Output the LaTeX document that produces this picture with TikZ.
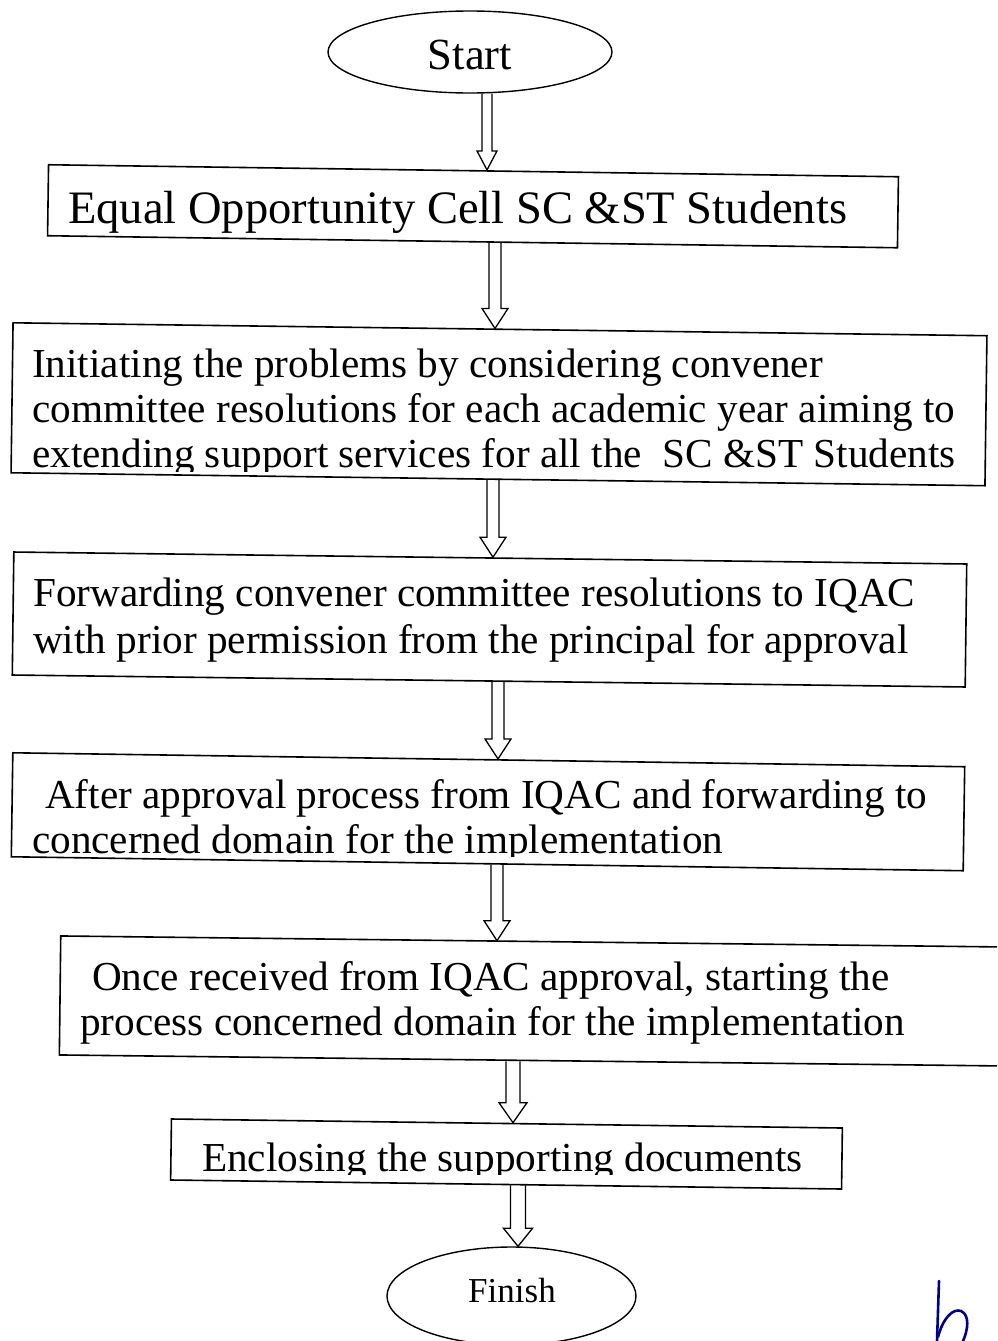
\documentclass[tikz,border=0pt]{standalone}
\usepackage{fontspec}
\setmainfont{Liberation Serif}
\usetikzlibrary{shapes.geometric,calc}
\tikzset{
  boxnode/.style={draw,line width=1.6pt,inner sep=0pt},
  oval/.style={draw,ellipse,line width=1.4pt,inner sep=0pt},
  conn/.style={draw,line width=1.3pt,line join=miter},
  txt/.style={anchor=base west,inner sep=0pt,font=\fontsize{41.2}{49}\selectfont},
  bigtxt/.style={anchor=base west,inner sep=0pt,font=\fontsize{46.5}{52}\selectfont},
  handmark/.style={draw=blue!55!black,line width=2.6pt,line cap=round,line join=round},
}
% lines of a box: #1 baselineskip, #2 lines as \hbox{...}
\newcommand{\boxlines}[2]{\vtop{\baselineskip=#1\lineskiplimit=-100pt #2}}
% #1 x, #2 from anchor, #3 to anchor, #4 shaft half width, #5 head half width, #6 head length
\newcommand{\hollowarrow}[6]{%
  \draw[conn] let \p1=(#1,0 |- #2), \p2=(#1,0 |- #3) in
    (\x1-#4pt,\y1) -- (\x1-#4pt,\y2+#6pt) -- (\x1-#5pt,\y2+#6pt) -- (\x1,\y2)
    -- (\x1+#5pt,\y2+#6pt) -- (\x1+#4pt,\y2+#6pt) -- (\x1+#4pt,\y1);}
\begin{document}
\begin{tikzpicture}[x=1pt,y=-1pt]
\clip (0,0) rectangle (997,1341);
\fill[white] (0,0) rectangle (997,1341);

% Start
\node[oval,minimum width=284pt,minimum height=82pt] (start) at (470,52) {};
\node[anchor=base,inner sep=0pt,font=\fontsize{44.5}{50}\selectfont] (starttxt) at (470,69) {Start};

% Box 1
\node[boxnode,minimum width=850pt,minimum height=71pt,rotate=-0.81] (b1) at (473,206.25) {};
\node[bigtxt] (t1) at (68,223) {Equal Opportunity Cell SC \&ST Students};

% Box 2
\node[boxnode,minimum width=974pt,minimum height=150pt,rotate=-0.76] (b2) at (499,404.25) {};
\begin{scope}
  \clip (0,300) rectangle (997,471);
  \node[txt] (t2) at (32,377) {\boxlines{45pt}{%
    \hbox{Initiating the problems by considering convener}%
    \hbox{committee resolutions for each academic year aiming to}%
    \hbox{extending support services for all the\ \ SC \&ST Students}}};
\end{scope}

% Box 3
\node[boxnode,minimum width=953pt,minimum height=123pt,rotate=-0.72] (b3) at (489.5,619.5) {};
\node[txt] (t3) at (33,606) {\boxlines{47pt}{%
    \hbox{Forwarding convener committee resolutions to IQAC}%
    \hbox{with prior permission from the principal for approval}}};

% Box 4
\node[boxnode,minimum width=952pt,minimum height=104pt,rotate=-0.84] (b4) at (488,811.75) {};
\begin{scope}
  \clip (0,740) rectangle (997,856);
  \node[txt] (t4) at (32,808) {\boxlines{45.5pt}{%
    \hbox{\hspace{13pt}After approval process from IQAC and forwarding to}%
    \hbox{concerned domain for the implementation}}};
\end{scope}

% Box 5
\node[boxnode,minimum width=950pt,minimum height=119pt,rotate=-0.67] (b5) at (535,1001) {};
\node[txt] (t5) at (80,990) {\boxlines{45pt}{%
    \hbox{\hspace{12pt}Once received from IQAC approval, starting the}%
    \hbox{process concerned domain for the implementation}}};

% Box 6
\node[boxnode,minimum width=671pt,minimum height=61pt,rotate=-0.77] (b6) at (506.5,1154) {};
\begin{scope}
  \clip (0,1100) rectangle (997,1174.5);
  \node[txt] (t6) at (202,1171) {Enclosing the supporting documents};
\end{scope}

% Finish
\node[oval,minimum width=249pt,minimum height=98pt] (finish) at (511.5,1296) {};
\node[anchor=base,inner sep=0pt,font=\fontsize{35}{40}\selectfont] (finishtxt) at (512,1302) {Finish};

% Connectors (hollow block arrows)
\hollowarrow{487}{start.south}{b1.north}{5}{10}{19}
\hollowarrow{495}{b1.south}{b2.north}{6}{13}{20}
\hollowarrow{493}{b2.south}{b3.north}{6}{13}{20}
\hollowarrow{498}{b3.south}{b4.north}{6}{13}{20}
\hollowarrow{497}{b4.south}{b5.north}{6}{13}{20}
\hollowarrow{513}{b5.south}{b6.north}{7}{14}{20}
\hollowarrow{518}{b6.south}{finish.north}{7.5}{14.5}{18}

% handwritten mark
\draw[handmark] (939,1281) -- (937,1341);
\draw[handmark] (938,1337) .. controls (943,1318) and (953,1308) .. (961,1311)
  .. controls (970,1315) and (968,1330) .. (963,1341);
\end{tikzpicture}
\end{document}
